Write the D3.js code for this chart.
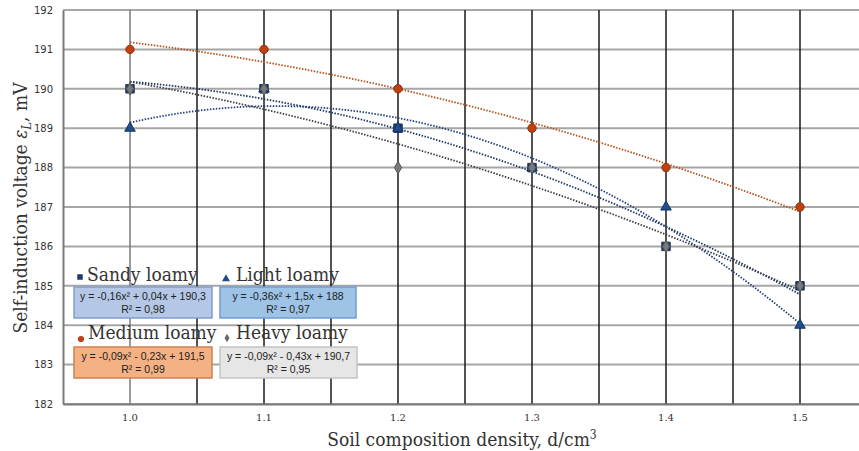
<!DOCTYPE html>
<html><head><meta charset="utf-8">
<script src="https://cdn.jsdelivr.net/npm/d3@7"></script>
<style>
html,body{margin:0;padding:0;background:#fff;}
svg{display:block;}
</style></head>
<body>
<svg id="chart" width="859" height="451"></svg>
<script>
// ---- data ----
const categories = ["1.0", "1.1", "1.2", "1.3", "1.4", "1.5"];
const sandyValues  = [190, 190, 189, 188, 186, 185];
const lightValues  = [189, 190, 189, 188, 187, 184];
const mediumValues = [191, 191, 190, 189, 188, 187];
const heavyValues  = [190, 190, 188, 188, 186, 185];
const yTicks = [182, 183, 184, 185, 186, 187, 188, 189, 190, 191, 192];
// trendline coefficients as printed in the chart: y = a*x^2 + b*x + c (x = category number 1..6)
const sandyTrend  = [-0.16, 0.04, 190.3];
const lightTrend  = [-0.36, 1.5, 188];
const mediumTrend = [-0.09, -0.23, 191.5];
const heavyTrend  = [-0.09, -0.43, 190.7];
const seriesNames = ["Sandy loamy", "Light loamy", "Medium loamy", "Heavy loamy"];
const equations = ["y = -0,16x² + 0,04x + 190,3", "y = -0,36x² + 1,5x + 188", "y = -0,09x² - 0,23x + 191,5", "y = -0,09x² - 0,43x + 190,7"];
const rSquared = ["R² = 0,98", "R² = 0,97", "R² = 0,99", "R² = 0,95"];

const svg = d3.select("#chart");
const pLeft = 63, pRight = 867, pTop = 10, pBottom = 404;

const x = d3.scaleBand().domain(categories).range([pLeft, pRight]).padding(0);
const xc = c => x(c) + x.bandwidth() / 2;
const xn = d3.scaleLinear().domain([0.5, 6.5]).range([pLeft, pRight]); // numeric position for trendlines
const y = d3.scaleLinear().domain([182, 192]).range([pBottom, pTop]);

// horizontal gridlines
svg.append("g").selectAll("line").data(yTicks).join("line")
  .attr("x1", pLeft).attr("x2", 859)
  .attr("y1", d => y(d)).attr("y2", d => y(d))
  .attr("stroke", "#a6a6a6").attr("stroke-width", 2);

// vertical lines at category boundaries
svg.append("g").selectAll("line").data(categories.slice(1)).join("line")
  .attr("x1", d => x(d)).attr("x2", d => x(d))
  .attr("y1", pTop).attr("y2", pBottom)
  .attr("stroke", "#1a1a1a").attr("stroke-width", 1.5);
// vertical lines at category centers
svg.append("g").selectAll("line").data(categories).join("line")
  .attr("x1", d => xc(d)).attr("x2", d => xc(d))
  .attr("y1", pTop).attr("y2", pBottom)
  .attr("stroke", (d, i) => i === 0 ? "#7a7a7a" : "#1a1a1a").attr("stroke-width", 1.5);

// axes
const yAxis = d3.axisLeft(y).tickValues(yTicks).tickSize(0).tickPadding(10);
const gy = svg.append("g").attr("transform", `translate(${pLeft},0)`).call(yAxis);
gy.select(".domain").attr("stroke", "#7a7a7a").attr("stroke-width", 2);
gy.selectAll("text").attr("font-family", "DejaVu Sans, sans-serif").attr("font-size", 10).attr("fill", "#333");

const xAxis = d3.axisBottom(x).tickSize(0).tickPadding(10);
const gx = svg.append("g").attr("transform", `translate(0,${pBottom})`).call(xAxis);
gx.select(".domain").attr("stroke", "#7a7a7a").attr("stroke-width", 2);
gx.selectAll("text").attr("font-family", "DejaVu Serif, serif").attr("font-size", 10).attr("fill", "#333");

// trendlines
const trendColors = ["#1f3864", "#24407a", "#b5531c", "#3a3f4a"];
const trends = [sandyTrend, lightTrend, mediumTrend, heavyTrend];
const line = d3.line().x(d => xn(d[0])).y(d => y(d[1])).curve(d3.curveMonotoneX);
trends.forEach((t, i) => {
  const pts = d3.range(1, 6.0001, 0.05).map(v => [v, t[0]*v*v + t[1]*v + t[2]]);
  svg.append("path").datum(pts).attr("d", line)
    .attr("fill", "none").attr("stroke", trendColors[i]).attr("stroke-width", 1.8)
    .attr("stroke-dasharray", "1.5,1.5");
});

// markers
const sym = {
  square: d3.symbol().type(d3.symbolSquare).size(72),
  triangle: d3.symbol().type(d3.symbolTriangle).size(48),
  circle: d3.symbol().type(d3.symbolCircle).size(55),
  diamond: d3.symbol().type(d3.symbolDiamond).size(45)
};
function markers(vals, shape, fill, stroke) {
  svg.append("g").selectAll("path").data(vals).join("path")
    .attr("transform", (d, i) => `translate(${xc(categories[i])},${y(d)})`)
    .attr("d", sym[shape]).attr("fill", fill).attr("stroke", stroke).attr("stroke-width", 1);
}
markers(sandyValues, "square", "#1f3864", "#1f3864");
markers(lightValues, "triangle", "#1f4e8c", "#16365f");
markers(mediumValues, "circle", "#c0410f", "#8f2f08");
markers(heavyValues, "diamond", "#7a7a7a", "#555");

// legend / equation boxes
const boxes = [
  {bx: 74, by: 287, bw: 138, fill: "#b4c7e7", stroke: "#7f9fd0", mx: 80, my: 277, shape: "square", mfill: "#1f3864", tx: 87, ty: 281},
  {bx: 220, by: 287, bw: 136, fill: "#9dc3e6", stroke: "#6f9fd0", mx: 226, my: 279, shape: "triangle", mfill: "#1f4e8c", tx: 236, ty: 281},
  {bx: 74, by: 347, bw: 138, fill: "#f4b183", stroke: "#d08050", mx: 81, my: 339, shape: "circle", mfill: "#c0410f", tx: 88, ty: 339},
  {bx: 220, by: 347, bw: 137, fill: "#e7e6e6", stroke: "#c4c4c4", mx: 227, my: 338, shape: "diamond", mfill: "#6a6a6a", tx: 236, ty: 339}
];
const smallSym = {
  square: d3.symbol().type(d3.symbolSquare).size(30),
  triangle: d3.symbol().type(d3.symbolTriangle).size(28),
  circle: d3.symbol().type(d3.symbolCircle).size(30),
  diamond: d3.symbol().type(d3.symbolDiamond).size(22)
};
boxes.forEach((b, i) => {
  const g = svg.append("g");
  g.append("rect").attr("x", b.bx).attr("y", b.by).attr("width", b.bw).attr("height", 31)
    .attr("fill", b.fill).attr("stroke", b.stroke).attr("stroke-width", 1.5);
  g.append("path").attr("transform", `translate(${b.mx},${b.my})`).attr("d", smallSym[b.shape]).attr("fill", b.mfill);
  g.append("text").attr("x", b.tx).attr("y", b.ty).text(seriesNames[i])
    .attr("font-family", "DejaVu Serif Condensed, DejaVu Serif, serif").attr("font-size", 19).attr("fill", "#333");
  g.append("text").attr("x", b.bx + b.bw / 2).attr("y", b.by + 13).attr("text-anchor", "middle")
    .text(equations[i]).attr("font-family", "Liberation Sans, Arial, sans-serif").attr("font-size", 10.5).attr("fill", "#222");
  g.append("text").attr("x", b.bx + b.bw / 2).attr("y", b.by + 26).attr("text-anchor", "middle")
    .text(rSquared[i]).attr("font-family", "Liberation Sans, Arial, sans-serif").attr("font-size", 10.5).attr("fill", "#222");
});

// axis titles
const yt = svg.append("text").attr("transform", `translate(27,208) rotate(-90)`).attr("text-anchor", "middle")
  .attr("font-family", "DejaVu Serif Condensed, DejaVu Serif, serif").attr("font-size", 19).attr("fill", "#333");
yt.append("tspan").text("Self-induction voltage ");
yt.append("tspan").attr("font-style", "italic").text("ε");
yt.append("tspan").attr("font-style", "italic").attr("font-size", 13).attr("dy", 4).text("L");
yt.append("tspan").attr("dy", -4).text(", mV");

const xt = svg.append("text").attr("x", 462).attr("y", 446).attr("text-anchor", "middle")
  .attr("font-family", "DejaVu Serif Condensed, DejaVu Serif, serif").attr("font-size", 19).attr("fill", "#333");
xt.append("tspan").text("Soil composition density, d/cm");
xt.append("tspan").attr("font-size", 12).attr("dy", -7).text("3");
</script>
</body></html>
